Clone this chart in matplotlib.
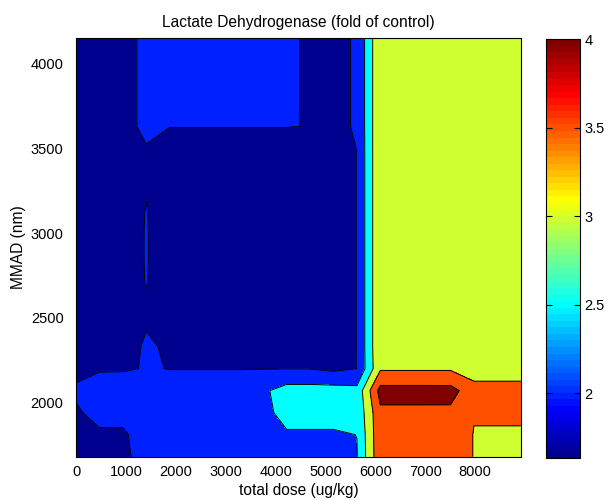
import numpy as np
import matplotlib
matplotlib.use("Agg")
from matplotlib import pyplot as plt
from matplotlib.colors import ListedColormap, Normalize
from matplotlib.cm import ScalarMappable

plt.rcParams['font.family'] = ['Liberation Sans', 'DejaVu Sans']

# grid nodes
dose = [0, 469, 938, 1407, 1876, 2345, 2814, 3283, 3752, 4221,
        4690, 5159, 5628, 6097, 6566, 7035, 7504, 7973, 8442, 8910]
mmad = [1680, 1810, 1940, 2070, 2200, 2330, 2460, 2590, 2720, 2850,
        2980, 3110, 3240, 3370, 3500, 3630, 3760, 3890, 4020, 4150]

# LDH fold of control, one row per mmad value (bottom to top)
ldh = np.array([
    [1.8, 1.8, 1.85, 2.274, 2.2, 2.2, 2.2, 2.2, 2.2, 2.2, 2.2, 2.2, 2.476, 3.88, 3.7, 3.7, 3.7, 3.49, 3.3, 3.3],
    [1.8, 1.906, 1.906, 2.3, 2.2, 2.2, 2.2, 2.2, 2.2, 2.437, 2.437, 2.437, 2.505, 3.9, 3.75, 3.75, 3.7, 3.49, 3.3, 3.3],
    [1.918, 2.2, 2.2, 2.2, 2.2, 2.2, 2.2, 2.2, 2.336, 2.7, 2.7, 2.7, 2.6, 3.906, 3.906, 3.906, 3.906, 3.515, 3.8, 3.8],
    [2.1, 2.4, 2.4, 2.2, 2.2, 2.2, 2.2, 2.2, 2.423, 2.7, 2.7, 2.7, 2.645, 4.174, 4.174, 4.174, 4.17, 3.709, 3.709, 3.709],
    [1.814, 1.924, 1.934, 2.033, 1.99, 1.99, 1.99, 1.99, 1.99, 1.99, 1.99, 1.9, 2.003, 3.44, 3.44, 3.44, 3.44, 3.223, 3.223, 3.223],
    [1.8, 1.8, 1.665, 2.1, 1.9, 1.8, 1.8, 1.8, 1.8, 1.8, 1.8, 1.9, 2.003, 3.48, 3.2, 3.2, 3.2, 3.2, 3.2, 3.2],
    [1.8, 1.8, 1.8, 1.955, 1.8, 1.8, 1.8, 1.8, 1.8, 1.8, 1.8, 1.9, 2.003, 3.48, 3.2, 3.2, 3.2, 3.2, 3.2, 3.2],
    [1.8, 1.8, 1.8, 1.974, 1.8, 1.8, 1.8, 1.8, 1.8, 1.8, 1.8, 1.9, 2.003, 3.48, 3.2, 3.2, 3.2, 3.2, 3.2, 3.2],
    [1.8, 1.8, 1.8, 2.015, 1.8, 1.8, 1.8, 1.8, 1.8, 1.8, 1.8, 1.9, 2.003, 3.48, 3.2, 3.2, 3.2, 3.2, 3.2, 3.2],
    [1.8, 1.8, 1.8, 2.02, 1.8, 1.8, 1.8, 1.8, 1.8, 1.8, 1.8, 1.9, 2.003, 3.48, 3.2, 3.2, 3.2, 3.2, 3.2, 3.2],
    [1.8, 1.8, 1.8, 2.02, 1.8, 1.8, 1.8, 1.8, 1.8, 1.8, 1.8, 1.9, 2.003, 3.48, 3.2, 3.2, 3.2, 3.2, 3.2, 3.2],
    [1.8, 1.8, 1.8, 2.015, 1.8, 1.8, 1.8, 1.8, 1.8, 1.8, 1.8, 1.9, 2.003, 3.48, 3.2, 3.2, 3.2, 3.2, 3.2, 3.2],
    [1.8, 1.8, 1.8, 1.991, 1.8, 1.8, 1.8, 1.8, 1.8, 1.8, 1.8, 1.9, 2.003, 3.48, 3.2, 3.2, 3.2, 3.2, 3.2, 3.2],
    [1.8, 1.8, 1.8, 1.96, 1.8, 1.8, 1.8, 1.8, 1.8, 1.8, 1.8, 1.9, 2.003, 3.48, 3.2, 3.2, 3.2, 3.2, 3.2, 3.2],
    [1.8, 1.8, 1.8, 1.975, 1.8, 1.8, 1.8, 1.8, 1.8, 1.8, 1.8, 1.9, 2.003, 3.48, 3.2, 3.2, 3.2, 3.2, 3.2, 3.2],
    [1.8, 1.8, 1.85, 2.1, 2.01, 2.01, 2.01, 2.01, 2.01, 2.01, 1.992, 1.946, 2.02, 3.474, 3.2, 3.2, 3.2, 3.2, 3.2, 3.2],
    [1.8, 1.8, 1.85, 2.1, 2.1, 2.1, 2.1, 2.1, 2.1, 2.1, 1.918, 1.946, 2.02, 3.474, 3.2, 3.2, 3.2, 3.2, 3.2, 3.2],
    [1.8, 1.8, 1.85, 2.1, 2.1, 2.1, 2.1, 2.1, 2.1, 2.1, 1.918, 1.946, 2.02, 3.474, 3.2, 3.2, 3.2, 3.2, 3.2, 3.2],
    [1.8, 1.8, 1.85, 2.1, 2.1, 2.1, 2.1, 2.1, 2.1, 2.1, 1.918, 1.946, 2.02, 3.474, 3.2, 3.2, 3.2, 3.2, 3.2, 3.2],
    [1.632, 1.8, 1.85, 2.1, 2.1, 2.1, 2.1, 2.1, 2.1, 2.1, 1.918, 1.946, 2.02, 3.474, 3.2, 3.2, 3.2, 3.2, 3.2, 3.2],
])

levels = [2.0, 2.5, 3.0, 3.5, 4.0]
cbar_ticks = [2, 2.5, 3, 3.5, 4]


def matlab_jet(m=64):
    # same construction as matlab's jet(m)
    n = int(np.ceil(m / 4))
    u = np.concatenate([np.arange(1, n + 1) / n, np.ones(n - 1), np.arange(n, 0, -1) / n])
    g = int(np.ceil(n / 2)) - int(m % 4 == 1) + np.arange(1, len(u) + 1)
    out = np.zeros((m, 3))
    for col, idx in enumerate((g + n, g, g - n)):
        ok = (idx >= 1) & (idx <= m)
        out[idx[ok] - 1, col] = u[ok]
    return out


jet = matlab_jet(64)
zmin = ldh.min()
cmax = levels[-1]

# each band takes the colour of its lower level
fill_levels = [zmin] + levels + [ldh.max() + 0.01]
fill_colors = []
for lev in fill_levels[:-1]:
    k = min(int((lev - zmin) / (cmax - zmin) * 64), 63)
    fill_colors.append(jet[k])

fig = plt.figure(figsize=(6.1, 5), dpi=100)
ax = fig.add_axes([0.1246, 0.0866, 0.729, 0.8368])

ax.contourf(dose, mmad, ldh, levels=fill_levels, colors=fill_colors)
ax.contour(dose, mmad, ldh, levels=levels, colors='k', linewidths=0.7)

ax.set_xlim(dose[0], dose[-1])
ax.set_ylim(mmad[0], mmad[-1])
ax.set_xticks(range(0, 9000, 1000))
ax.set_yticks(range(2000, 4001, 500))
# tick marks sit under the filled patches, so only labels show
ax.tick_params(direction='in', top=True, right=True, labelsize=10.5, length=0)
ax.tick_params(axis='x', pad=6)
ax.tick_params(axis='y', pad=9)
for s in ax.spines.values():
    s.set_linewidth(0.8)

ax.set_title('Lactate Dehydrogenase (fold of control)', fontsize=11.2, pad=8)
ax.set_xlabel('total dose (ug/kg)', fontsize=11.2, labelpad=3)
ax.set_ylabel('MMAD (nm)', fontsize=11.2, labelpad=3)

cax = fig.add_axes([0.8951, 0.0834, 0.0557, 0.838])
sm = ScalarMappable(norm=Normalize(zmin, cmax), cmap=ListedColormap(jet))
cb = fig.colorbar(sm, cax=cax, ticks=cbar_ticks, format='%g')
cb.ax.tick_params(direction='in', left=True, right=True, labelsize=10.5, length=4, pad=3)
cb.outline.set_linewidth(0.8)

fig.savefig('out.png', dpi=100)
